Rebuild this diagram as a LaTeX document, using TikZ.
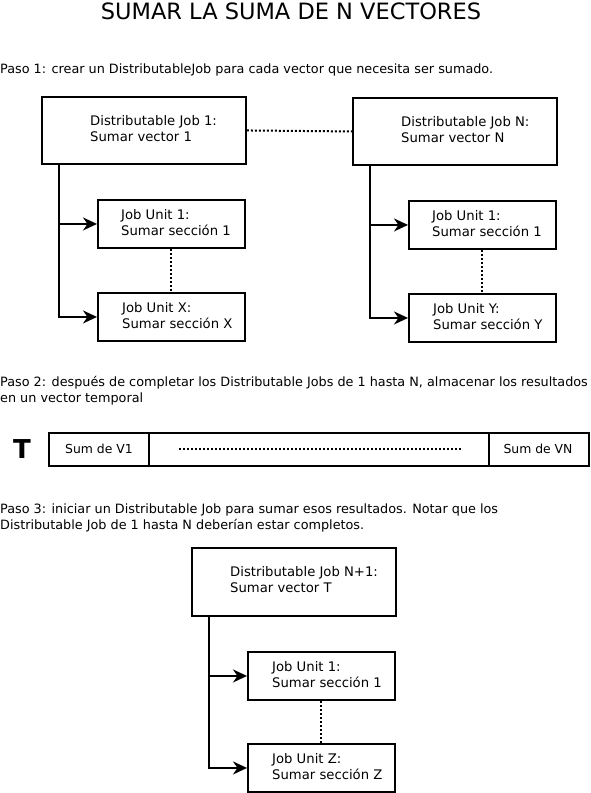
\documentclass[tikz,border=0pt]{standalone}
\usepackage{fontspec}
\setmainfont{DejaVu Sans}
\usetikzlibrary{arrows.meta}
\begin{document}
\begin{tikzpicture}[x=1pt,y=-1pt,
  frame/.style={draw,line width=1.9pt,inner sep=0pt,anchor=north west},
  jobbox/.style={frame,minimum width=204pt,minimum height=67pt},
  unitbox/.style={frame,minimum width=147pt,minimum height=48pt},
  label/.style={anchor=west,inner sep=0pt,align=left,font=\fontsize{13.2}{16}\selectfont},
  note/.style={anchor=base west,inner sep=0pt,align=left,font=\fontsize{12.8}{16}\selectfont},
  link/.style={line width=1.9pt,-{Stealth[length=14pt,width=13pt,inset=4.5pt]}},
  dots/.style={line width=2pt,dash pattern=on 2pt off 2pt}]
\useasboundingbox (0,0) rectangle (590,793);

% title
\node[anchor=base,inner sep=0pt,font=\fontsize{22.5}{26}\selectfont] (title) at (291,19) {SUMAR LA SUMA DE N VECTORES};

% step 1
\node[note] (paso1) at (0,73.5) {Paso 1: crear un DistributableJob para cada vector que necesita ser sumado.};

\node[jobbox] (dj1) at (41,96) {};
\node[label] (dj1t) at (90,129) {Distributable Job 1:\\Sumar vector 1};
\node[unitbox] (ja1) at (97,199) {};
\node[label] (ja1t) at (121,223) {Job Unit 1:\\Sumar sección 1};
\node[unitbox] (jax) at (97,292) {};
\node[label] (jaxt) at (122,316) {Job Unit X:\\Sumar sección X};

\node[jobbox] (djn) at (352,97) {};
\node[label] (djnt) at (401,130) {Distributable Job N:\\Sumar vector N};
\node[unitbox] (jb1) at (408,200) {};
\node[label] (jb1t) at (432,224) {Job Unit 1:\\Sumar sección 1};
\node[unitbox] (jby) at (408,293) {};
\node[label] (jbyt) at (433,317) {Job Unit Y:\\Sumar sección Y};

\draw[dots] (dj1.east) -- (djn.west);
\draw[link] ([xshift=18pt]dj1.south west) |- (ja1.west);
\draw[link] ([xshift=18pt]dj1.south west) |- (jax.west);
\draw[dots] (ja1.south) -- (jax.north);
\draw[link] ([xshift=18pt]djn.south west) |- (jb1.west);
\draw[link] ([xshift=18pt]djn.south west) |- (jby.west);
\draw[dots] (jb1.south) -- (jby.north);

% step 2
\node[note] (paso2) at (0,402) {Paso 2: después de completar los Distributable Jobs de 1 hasta N, almacenar los resultados\\en un vector temporal};

\node[anchor=base,inner sep=0pt,font=\fontsize{26}{30}\bfseries] (tname) at (22,458) {T};
\node[frame,minimum width=100pt,minimum height=33pt] (v1) at (48,432) {};
\node[frame,minimum width=340pt,minimum height=33pt] (vmid) at (148,432) {};
\node[frame,minimum width=100pt,minimum height=33pt] (vn) at (488,432) {};
\node[anchor=base,inner sep=0pt,font=\fontsize{12.4}{14}\selectfont] (v1t) at (99,453) {Sum de V1};
\node[anchor=base,inner sep=0pt,font=\fontsize{12.4}{14}\selectfont] (vnt) at (538,453) {Sum de VN};
\draw[dots] ([xshift=31pt]vmid.west) -- ([xshift=-27pt]vmid.east);

% step 3
\node[note] (paso3) at (0,529) {Paso 3: iniciar un Distributable Job para sumar esos resultados. Notar que los\\Distributable Job de 1 hasta N deberían estar completos.};

\node[jobbox,minimum height=68pt] (djt) at (191,547) {};
\node[label] (djtt) at (230,580) {Distributable Job N+1:\\Sumar vector T};
\node[unitbox] (jc1) at (247,651) {};
\node[label] (jc1t) at (272,675) {Job Unit 1:\\Sumar sección 1};
\node[unitbox] (jcz) at (247,743) {};
\node[label] (jczt) at (272,767) {Job Unit Z:\\Sumar sección Z};

\draw[link] ([xshift=18pt]djt.south west) |- (jc1.west);
\draw[link] ([xshift=18pt]djt.south west) |- (jcz.west);
\draw[dots] (jc1.south) -- (jcz.north);
\end{tikzpicture}
\end{document}
